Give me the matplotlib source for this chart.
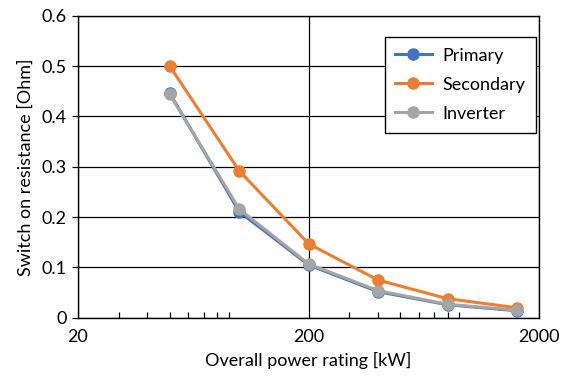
import matplotlib
matplotlib.use("Agg")
import matplotlib.pyplot as plt
from matplotlib.ticker import FixedLocator, FixedFormatter, LogLocator, NullFormatter

plt.rcParams['font.family'] = ['Lato', 'DejaVu Sans']

power_kw = [50, 100, 200, 400, 800, 1600]
primary = [0.446, 0.211, 0.105, 0.052, 0.026, 0.014]
secondary = [0.500, 0.292, 0.147, 0.075, 0.038, 0.020]
inverter = [0.444, 0.216, 0.107, 0.054, 0.027, 0.015]

series_names = ["Primary", "Secondary", "Inverter"]
colors = ["#4472C4", "#ED7D31", "#A5A5A5"]

x_ticks = [20, 200, 2000]
x_tick_labels = ["20", "200", "2000"]
y_ticks = [0, 0.1, 0.2, 0.3, 0.4, 0.5, 0.6]
y_tick_labels = ["0", "0.1", "0.2", "0.3", "0.4", "0.5", "0.6"]

fig = plt.figure(figsize=(5.78, 3.77), dpi=100)
ax = fig.add_axes([0.135, 0.157, 0.798, 0.801])

for name, vals, c in zip(series_names, [primary, secondary, inverter], colors):
    ax.plot(power_kw, vals, color=c, lw=2.2, marker='o', ms=8, label=name, zorder=3)

ax.set_xscale('log')
ax.set_xlim(20, 2000)
ax.set_ylim(0, 0.6)
ax.xaxis.set_major_locator(FixedLocator(x_ticks))
ax.xaxis.set_major_formatter(FixedFormatter(x_tick_labels))
ax.xaxis.set_minor_locator(LogLocator(base=10, subs=range(2, 10)))
ax.xaxis.set_minor_formatter(NullFormatter())
ax.set_yticks(y_ticks)
ax.set_yticklabels(y_tick_labels)

ax.grid(True, which='major', axis='both', color='black', lw=0.9, zorder=1)
ax.tick_params(axis='x', which='minor', direction='in', length=4, width=0.9, color='black')
ax.tick_params(axis='x', which='major', direction='in', length=0, pad=8)
ax.tick_params(axis='y', which='major', direction='out', length=4, width=0.9, pad=4)
ax.tick_params(labelsize=13, colors='black')

for s in ax.spines.values():
    s.set_color('black')
    s.set_linewidth(1.0)

ax.set_xlabel("Overall power rating [kW]", fontsize=13, labelpad=5)
ax.set_ylabel("Switch on resistance [Ohm]", fontsize=13, labelpad=6)

leg = ax.legend(loc='upper right', bbox_to_anchor=(0.993, 0.93), fontsize=13,
                frameon=True, fancybox=False, edgecolor='black', framealpha=1,
                borderpad=0.6, labelspacing=0.72, handlelength=2.0, handletextpad=0.6,
                borderaxespad=0)
leg.get_frame().set_linewidth(1.0)

fig.savefig("out.png", dpi=100)
